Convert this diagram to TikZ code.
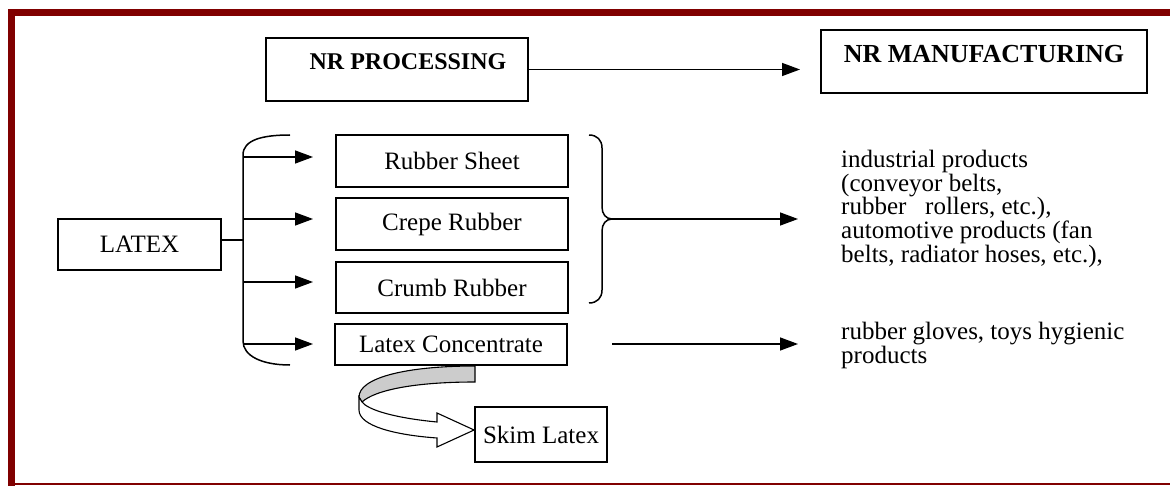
\documentclass[tikz,border=0pt]{standalone}
\usepackage{fontspec}
\setmainfont{Liberation Serif}
\usetikzlibrary{arrows.meta}
\definecolor{frame}{HTML}{800000}
\begin{document}
\begin{tikzpicture}[x=1pt,y=-1pt,
  box/.style={draw, line width=1.8pt, inner sep=0pt},
  body/.style={font=\fontsize{25}{22.5}\selectfont},
  head/.style={font=\fontsize{24}{24}\selectfont\bfseries},
  conn/.style={line width=1.5pt},
  arr/.style={conn, -{Triangle[length=18pt,width=13pt]}},
  ribbon/.style={line width=1.1pt}
]
\useasboundingbox (0,0) rectangle (1170,486);
% frame
\fill[frame] (8,9) rectangle (1170,16);
\fill[frame] (8,9) rectangle (15,486);
\draw[frame, line width=1.5pt] (8,484) -- (1170,484);

% headings
\node[box, minimum width=262pt, minimum height=63pt] (proc) at (397,69.5) {};
\node[head] (proct) at (408,62) {NR PROCESSING};
\node[box, minimum width=326pt, minimum height=63pt] (manu) at (984,61.5) {};
\node[head, font=\fontsize{26}{26}\selectfont\bfseries] (manut) at (984,54) {NR MANUFACTURING};
\coordinate (manuin) at (800,69.5);
\draw[arr] (proc.east) -- (manuin);

% latex and branches
\node[box, body, minimum width=163pt, minimum height=51pt] (latex) at (139.5,244.5) {LATEX};
\coordinate (j) at (243,240);
\draw[conn] (latex.east |- j) -- (j);
\coordinate (ct) at (290,135);
\coordinate (cb) at (290,365);
\draw[conn] (ct) .. controls (262,135) and (243,140) .. (243,155) -- (243,341) .. controls (243,356) and (262,365) .. (cb);

\node[box, body, minimum width=232pt, minimum height=52pt] (sheet) at (452,161) {Rubber Sheet};
\node[box, body, minimum width=232pt, minimum height=52pt] (crepe) at (452,224) {Crepe Rubber};
\node[box, body, minimum width=232pt, minimum height=51pt] (crumb) at (452,287.5) {Crumb Rubber};
\node[box, body, minimum width=232pt, minimum height=41pt] (conc) at (451,344.5) {Latex Concentrate};

\coordinate (s1) at (243,157); \coordinate (e1) at (313,157);
\coordinate (s2) at (243,219); \coordinate (e2) at (313,219);
\coordinate (s3) at (243,282); \coordinate (e3) at (313,282);
\coordinate (s4) at (243,344); \coordinate (e4) at (313,344);
\draw[arr] (s1) -- (e1);
\draw[arr] (s2) -- (e2);
\draw[arr] (s3) -- (e3);
\draw[arr] (s4) -- (e4);

% brace
\coordinate (btop) at (589,135);
\coordinate (btip) at (612,219);
\coordinate (bbot) at (589,303);
\draw[conn] (btop) .. controls (597,135) and (602,140) .. (602,148) -- (602,207)
  .. controls (602,214) and (606,219) .. (btip)
  .. controls (606,219) and (602,224) .. (602,231) -- (602,290)
  .. controls (602,298) and (597,303) .. (bbot);
\coordinate (indin) at (798,219);
\draw[arr] (btip) -- (indin);

\coordinate (c1) at (612,344);
\coordinate (c2) at (798,344);
\draw[arr] (c1) -- (c2);

% product texts
\node[body, anchor=north west, align=left, inner sep=0pt] (ind) at (841,150)
 {industrial products\\(conveyor belts,\\rubber\hspace{0.75em}rollers, etc.),\\automotive products (fan\\belts, radiator hoses, etc.),};
\node[body, anchor=north west, align=left, inner sep=0pt] (glv) at (841,322)
 {rubber gloves, toys hygienic\\products};

% skim latex
\node[box, body, minimum width=132pt, minimum height=55pt] (skim) at (541,434.5) {Skim Latex};

% curved ribbon arrow
\draw[ribbon, fill=black!20] (475,366) .. controls (405,366) and (359,378) .. (359,397)
  -- (362,402) .. controls (375,390) and (415,382) .. (475,382) -- cycle;
\draw[ribbon, fill=white] (359,397) -- (359,410) .. controls (359,426) and (395,435) .. (437,438)
  -- (437,447) -- (skim.west |- 0,430) -- (437,413) -- (437,422)
  .. controls (395,418) and (368,410) .. (362,402) -- cycle;
\end{tikzpicture}
\end{document}
